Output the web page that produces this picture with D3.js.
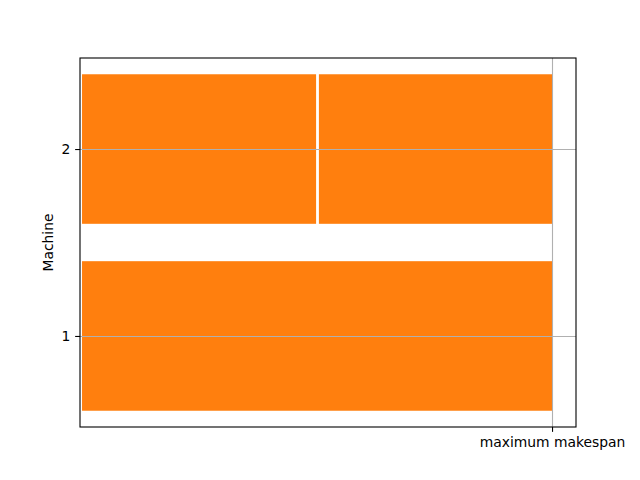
<!DOCTYPE html>
<html><head><meta charset="utf-8">
<script src="https://cdn.jsdelivr.net/npm/d3@7/dist/d3.min.js"></script>
<style>body{margin:0;background:#fff}svg{display:block;font-family:"DejaVu Sans",sans-serif}</style>
</head><body><svg id="c" width="640" height="480"></svg>
<script>
const machines = [1, 2];
const taskMachine = [1, 2, 2];
const taskStart = [0, 0, 5.04];
const taskEnd = [10, 4.98, 10];
const makespan = 10;
const xTickLabels = ["maximum makespan"];

const svg = d3.select("#c");
const L = 80, R = 576, T = 58, B = 427;
const x = d3.scaleLinear().domain([-0.043, 10.51]).range([L, R]);
const y = d3.scaleLinear().domain([0.513, 2.487]).range([B, T]);
const barH = 0.8;

const g = svg.append("g");
g.selectAll("rect.bar").data(taskStart.map((s,i)=>({s, e: taskEnd[i], m: taskMachine[i]})))
  .enter().append("rect")
  .attr("x", d => x(d.s)).attr("width", d => x(d.e) - x(d.s))
  .attr("y", d => y(d.m + barH/2)).attr("height", d => y(d.m - barH/2) - y(d.m + barH/2))
  .attr("fill", "#ff7f0e");

// grid
g.selectAll("line.hg").data(machines).enter().append("line")
  .attr("x1", L).attr("x2", R).attr("y1", d => Math.round(y(d))+0.5).attr("y2", d => Math.round(y(d))+0.5)
  .attr("stroke", "#b0b0b0").attr("stroke-width", 1.1);
g.append("line").attr("x1", Math.round(x(makespan))+0.5).attr("x2", Math.round(x(makespan))+0.5)
  .attr("y1", T).attr("y2", B).attr("stroke", "#b0b0b0").attr("stroke-width", 1.1);

// axes
const ya = d3.axisLeft(y).tickValues(machines).tickFormat(d3.format("d")).tickSizeOuter(0).tickSize(4.86).tickPadding(4.86);
const yg = svg.append("g").attr("transform", `translate(${L},0)`).call(ya);
const xa = d3.axisBottom(x).tickValues([makespan]).tickFormat((d,i)=>xTickLabels[i]).tickSizeOuter(0).tickSize(4.86).tickPadding(4.86);
const xg = svg.append("g").attr("transform", `translate(0,${B})`).call(xa);
[yg, xg].forEach(a => {
  a.select(".domain").remove();
  a.selectAll("text").attr("font-size", "13.89px").attr("fill", "#000").attr("font-family", "DejaVu Sans");
  a.selectAll("line").attr("stroke", "#000").attr("stroke-width", 1.1);
});
svg.append("rect").attr("x", L).attr("y", T).attr("width", R-L).attr("height", B-T)
  .attr("fill", "none").attr("stroke", "#000").attr("stroke-width", 1.1);

svg.append("text").attr("transform", `translate(53,${(T+B)/2}) rotate(-90)`)
  .attr("text-anchor", "middle").attr("font-size", "13.89px").text("Machine");
</script></body></html>
